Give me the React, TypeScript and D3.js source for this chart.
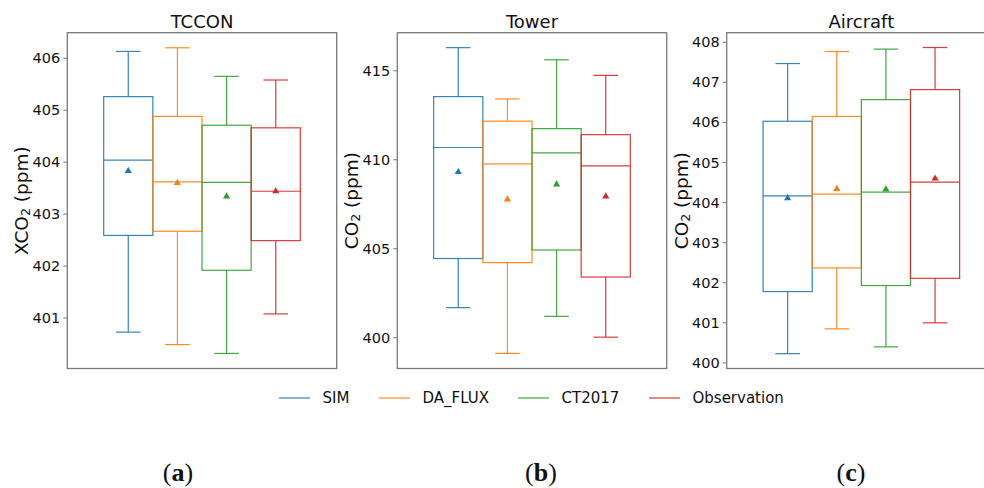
import React from "react";
import * as d3 from "d3";

// Series and colours
const seriesNames = ["SIM", "DA_FLUX", "CT2017", "Observation"];
const seriesColors = ["#1f77b4", "#ff7f0e", "#2ca02c", "#d62728"];

// Box statistics per series: [whiskerLow, q1, median, q3, whiskerHigh, mean]
const tcconStats = [
  [400.73, 402.59, 404.04, 405.26, 406.13, 403.83],
  [400.49, 402.67, 403.62, 404.88, 406.2, 403.6],
  [400.32, 401.92, 403.61, 404.71, 405.65, 403.34],
  [401.08, 402.49, 403.44, 404.66, 405.58, 403.44],
];
const towerStats = [
  [401.69, 404.45, 410.69, 413.55, 416.3, 409.31],
  [399.12, 404.22, 409.77, 412.17, 413.42, 407.77],
  [401.2, 404.93, 410.39, 411.75, 415.62, 408.62],
  [400.03, 403.41, 409.66, 411.41, 414.74, 407.94],
];
const aircraftStats = [
  [400.23, 401.78, 404.17, 406.03, 407.47, 404.11],
  [400.85, 402.37, 404.21, 406.15, 407.77, 404.34],
  [400.4, 401.93, 404.26, 406.57, 407.83, 404.33],
  [401.0, 402.11, 404.51, 406.82, 407.87, 404.6],
];

// Axis ticks
const tcconTicks = [401, 402, 403, 404, 405, 406];
const towerTicks = [400, 405, 410, 415];
const aircraftTicks = [400, 401, 402, 403, 404, 405, 406, 407, 408];

const panelTitles = ["TCCON", "Tower", "Aircraft"];
const panelLabels = ["a", "b", "c"];

const panels = [
  { title: panelTitles[0], label: panelLabels[0], yMain: "XCO", stats: tcconStats, ticks: tcconTicks, domain: [400.03, 406.49], left: 67.3, right: 336.7, labelX: 21, subX: 178 },
  { title: panelTitles[1], label: panelLabels[1], yMain: "CO", stats: towerStats, ticks: towerTicks, domain: [398.27, 417.14], left: 397.3, right: 666.7, labelX: 351, subX: 541 },
  { title: panelTitles[2], label: panelLabels[2], yMain: "CO", stats: aircraftStats, ticks: aircraftTicks, domain: [399.86, 408.24], left: 726.7, right: 996, labelX: 681, subX: 851 },
];

const TOP = 32.7;
const BOTTOM = 368.5;
const FONT = "DejaVu Sans, sans-serif";

function Panel({ p }: { p: any }) {
  const y = d3.scaleLinear().domain(p.domain).range([BOTTOM, TOP]);
  const x = d3.scaleLinear().domain([-2.74, 2.74]).range([p.left, p.right]);
  const offsets = [-1.5, -0.5, 0.5, 1.5];
  const boxW = 1.0;
  const capW = 0.5;
  const cy = (TOP + BOTTOM) / 2;
  return (
    <g>
      {p.stats.map((s: number[], i: number) => {
        const c = seriesColors[i];
        const cx = x(offsets[i]);
        const bl = x(offsets[i] - boxW / 2);
        const br = x(offsets[i] + boxW / 2);
        const cl = x(offsets[i] - capW / 2);
        const cr = x(offsets[i] + capW / 2);
        const [lo, q1, med, q3, hi, mean] = s;
        const my = y(mean);
        const tri = d3.symbol().type(d3.symbolTriangle).size(22)();
        return (
          <g key={i} stroke={c} strokeWidth={1.2} strokeOpacity={0.9} fill="none">
            <line x1={cx} x2={cx} y1={y(lo)} y2={y(q1)} />
            <line x1={cx} x2={cx} y1={y(q3)} y2={y(hi)} />
            <line x1={cl} x2={cr} y1={y(lo)} y2={y(lo)} />
            <line x1={cl} x2={cr} y1={y(hi)} y2={y(hi)} />
            <rect x={bl} y={y(q3)} width={br - bl} height={y(q1) - y(q3)} />
            <line x1={bl} x2={br} y1={y(med)} y2={y(med)} />
            <path d={tri || ""} transform={`translate(${cx},${my})`} fill={c} stroke="none" />
          </g>
        );
      })}
      <rect x={p.left} y={TOP} width={p.right - p.left} height={BOTTOM - TOP} fill="none" stroke="#7a7a7a" strokeWidth={1.3} />
      {p.ticks.map((t: number) => (
        <g key={t}>
          <line x1={p.left - 4} x2={p.left} y1={y(t)} y2={y(t)} stroke="#7a7a7a" strokeWidth={1} />
          <text x={p.left - 7} y={y(t)} textAnchor="end" dominantBaseline="central" fontSize={14.5} fontFamily={FONT} fill="#111">
            {t}
          </text>
        </g>
      ))}
      <text x={(p.left + p.right) / 2} y={28} textAnchor="middle" fontSize={18} fontFamily={FONT} fill="#111">
        {p.title}
      </text>
      <text transform={`translate(${p.labelX},${cy}) rotate(-90)`} textAnchor="middle" dominantBaseline="central" fontSize={18.5} fontFamily={FONT} fill="#111">
        {p.yMain}
        <tspan fontSize={12.5} dy={4}>2</tspan>
        <tspan dy={-4}> (ppm)</tspan>
      </text>
      <text x={p.subX} y={481} textAnchor="middle" fontSize={26} fontFamily="Liberation Serif, serif" fill="#111">
        (<tspan fontWeight="bold">{p.label}</tspan>)
      </text>
    </g>
  );
}

const legendLineX = [279, 379, 518, 649];

export default function App() {
  return (
    <svg width={984} height={488} style={{ position: "absolute", left: 0, top: 0, background: "#fff" }}>
      <rect width={984} height={488} fill="#fff" />
      {panels.map((p, i) => (
        <Panel key={i} p={p} />
      ))}
      {seriesNames.map((n, i) => (
        <g key={n}>
          <line x1={legendLineX[i]} x2={legendLineX[i] + 31} y1={398} y2={398} stroke={seriesColors[i]} strokeWidth={1.3} strokeOpacity={0.85} />
          <text x={legendLineX[i] + 43.5} y={398} dominantBaseline="central" fontSize={15} fontFamily={FONT} fill="#111">
            {n}
          </text>
        </g>
      ))}
    </svg>
  );
}
